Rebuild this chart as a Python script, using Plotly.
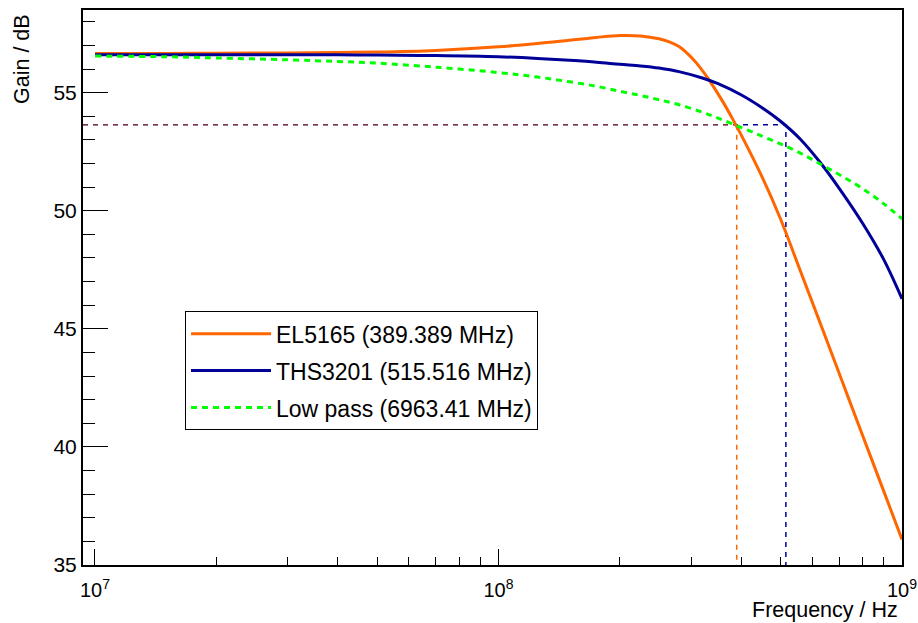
import plotly.graph_objects as go

# ---- data ----
freq_el5165 = [1e7, 1.5e7, 2e7, 3e7, 4e7, 5e7, 7e7, 1e8, 1.25e8, 1.5e8, 1.75e8, 2e8, 2.25e8, 2.5e8,
               2.65e8, 2.8e8, 2.95e8, 3.1e8, 3.25e8, 3.4e8, 3.6e8, 3.8e8, 4e8, 4.5e8, 5e8, 5.6e8,
               6.3e8, 7.1e8, 8e8, 9e8, 1e9]
gain_el5165 = [56.66, 56.66, 56.67, 56.68, 56.70, 56.72, 56.79, 56.94, 57.08, 57.22, 57.34, 57.42, 57.40, 57.28,
               57.15, 56.95, 56.63, 56.24, 55.78, 55.29, 54.61, 53.90, 53.19, 51.43, 49.65, 47.45,
               45.15, 42.80, 40.45, 38.15, 36.08]

freq_hz = [1e7, 1.5e7, 2e7, 3e7, 4e7, 5e7, 7e7, 1e8, 1.25e8, 1.5e8, 1.75e8, 2e8,
           2.25e8, 2.5e8, 2.8e8, 3.2e8, 3.5e8, 4e8, 4.5e8, 5e8, 5.6e8, 6.3e8, 7.1e8, 8e8, 9e8, 1e9]
gain_ths3201 = [56.60, 56.60, 56.60, 56.60, 56.60, 56.59, 56.57, 56.52, 56.45, 56.37, 56.29, 56.20,
                56.13, 56.04, 55.89, 55.62, 55.38, 54.90, 54.36, 53.79, 53.03, 52.00, 50.78, 49.45, 47.95, 46.27]
gain_lowpass = [56.55, 56.52, 56.47, 56.39, 56.32, 56.25, 56.08, 55.85, 55.66, 55.46, 55.27, 55.06,
                54.88, 54.70, 54.49, 54.17, 53.92, 53.52, 53.16, 52.83, 52.44, 51.96, 51.46, 50.93, 50.30, 49.66]

series_names = ["EL5165 (389.389 MHz)", "THS3201 (515.516 MHz)", "Low pass (6963.41 MHz)"]
cutoff_hz = [389.389e6, 515.516e6]
gain_3db = 53.64

x_tick_vals = [1e7, 1e8, 1e9]
x_tick_text = ["10<sup>7</sup>", "10<sup>8</sup>", "10<sup>9</sup>"]
x_minor_vals = [2e7, 3e7, 4e7, 5e7, 6e7, 7e7, 8e7, 9e7, 2e8, 3e8, 4e8, 5e8, 6e8, 7e8, 8e8, 9e8]
y_tick_vals = [35, 40, 45, 50, 55]

x_log_range = [6.9703, 9.0]
y_range = [35, 58.5]

ORANGE = "#FF6600"
NAVY = "#000099"
GREEN = "#00FF00"
FONT = "Liberation Sans, Arial, Helvetica, sans-serif"

fig = go.Figure()

x_left = 10 ** x_log_range[0]
# -3 dB marker lines
fig.add_trace(go.Scatter(x=[x_left, cutoff_hz[1], cutoff_hz[1]], y=[gain_3db, gain_3db, y_range[0]],
                         mode="lines", line=dict(color=NAVY, width=1.5, dash="5px,5px"),
                         showlegend=False, hoverinfo="skip"))
fig.add_trace(go.Scatter(x=[x_left, cutoff_hz[0]], y=[gain_3db, gain_3db],
                         mode="lines", line=dict(color=ORANGE, width=1.5, dash="5px,5px"),
                         showlegend=False, hoverinfo="skip", opacity=0.5))
fig.add_trace(go.Scatter(x=[cutoff_hz[0], cutoff_hz[0]], y=[gain_3db, y_range[0]],
                         mode="lines", line=dict(color=ORANGE, width=1.5, dash="5px,5px"),
                         showlegend=False, hoverinfo="skip"))

fig.add_trace(go.Scatter(x=freq_el5165, y=gain_el5165, mode="lines", name=series_names[0],
                         line=dict(color=ORANGE, width=3, shape="spline"), legendgroup="a"))
fig.add_trace(go.Scatter(x=freq_hz, y=gain_ths3201, mode="lines", name=series_names[1],
                         line=dict(color=NAVY, width=3, shape="spline"), legendgroup="b"))
fig.add_trace(go.Scatter(x=freq_hz, y=gain_lowpass, mode="lines", name=series_names[2],
                         line=dict(color=GREEN, width=3, dash="6px,5px", shape="spline"), legendgroup="c"))

fig.update_layout(
    width=918, height=623,
    margin=dict(l=83, r=16, t=10, b=58, autoexpand=False),
    paper_bgcolor="white", plot_bgcolor="white",
    font=dict(family=FONT, size=21, color="black"),
    showlegend=True,
    legend=dict(x=(185 - 83) / 819, y=(564.5 - 311) / 554.5, xanchor="left", yanchor="top",
                bgcolor="white", bordercolor="black", borderwidth=1,
                font=dict(family=FONT, size=23, color="black"),
                tracegroupgap=4, itemwidth=80),
    xaxis=dict(type="log", range=x_log_range, showgrid=False, zeroline=False, automargin=False,
               showline=True, mirror=True, linecolor="black", linewidth=2,
               tickmode="array", tickvals=x_tick_vals, ticktext=x_tick_text,
               ticks="inside", ticklen=16, tickcolor="black", tickwidth=1,
               ticklabeloverflow="allow", ticklabelstandoff=6,
               minor=dict(tickmode="array", tickvals=x_minor_vals, ticks="inside",
                          ticklen=8, tickcolor="black", tickwidth=1, showgrid=False),
               tickfont=dict(family=FONT, size=20)),
    yaxis=dict(range=y_range, showgrid=False, zeroline=False, automargin=False,
               showline=True, mirror=True, linecolor="black", linewidth=2,
               tickmode="array", tickvals=y_tick_vals,
               ticks="inside", ticklen=25, tickcolor="black", tickwidth=1,
               minor=dict(dtick=1, tick0=35, ticks="inside", ticklen=12, tickcolor="black",
                          tickwidth=1, showgrid=False),
               tickfont=dict(family=FONT, size=21)),
    annotations=[
        dict(text="Gain / dB", textangle=-90, xref="paper", yref="paper",
             x=(22 - 83) / 819, y=1 - (12 - 10) / 554.5, xanchor="center", yanchor="top",
             showarrow=False, font=dict(family=FONT, size=21.5)),
        dict(text="Frequency / Hz", xref="paper", yref="paper",
             x=(900 - 83) / 819, y=(564.5 - 609) / 554.5, xanchor="right", yanchor="middle",
             showarrow=False, font=dict(family=FONT, size=21.5)),
    ],
)

fig.write_html("out.html", config={"displayModeBar": False},
               post_script="document.body.style.margin='0';")
